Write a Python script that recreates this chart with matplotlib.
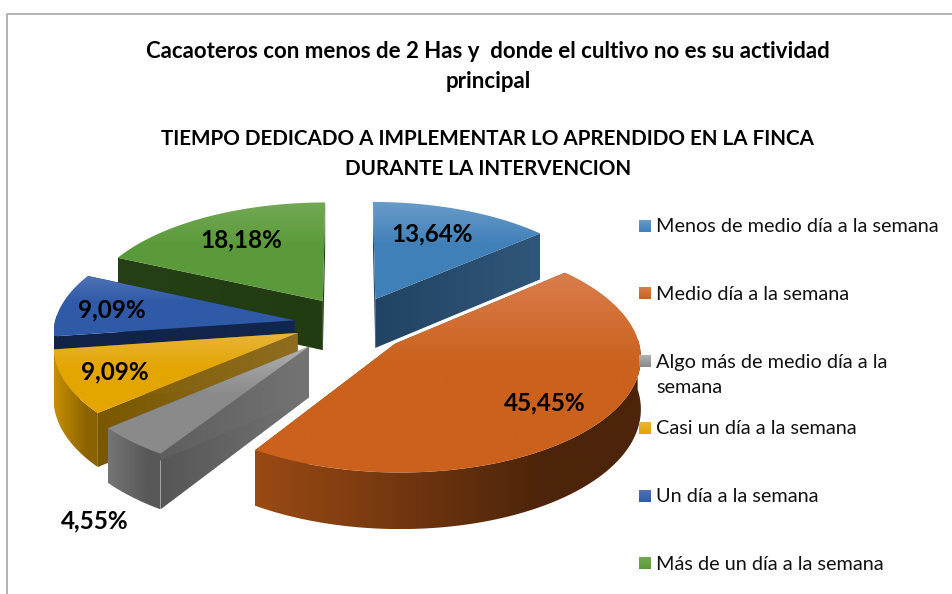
import numpy as np
import matplotlib
matplotlib.use("Agg")
import matplotlib.pyplot as plt
from matplotlib.patches import Polygon

categories = [
    "Menos de medio día a la semana",
    "Medio día a la semana",
    "Algo más de medio día a la\nsemana",
    "Casi un día a la semana",
    "Un día a la semana",
    "Más de un día a la semana",
]
values = [13.64, 45.45, 4.55, 9.09, 9.09, 18.18]

title_lines = [
    "Cacaoteros con menos de 2 Has y  donde el cultivo no es su actividad",
    "principal",
    "TIEMPO DEDICADO A IMPLEMENTAR LO APRENDIDO EN LA FINCA",
    "DURANTE LA INTERVENCION",
]

top_light = ["#6a9bca", "#d97d4d", "#b0b0b0", "#e8b53c", "#4f73b5", "#73a853"]
top_base = ["#4080b8", "#cb611c", "#8a8a8a", "#e3a500", "#2f5aa8", "#5a9a3a"]
wall_left = ["#2c5273", "#9a4a14", "#757575", "#c79000", "#14254a", "#2a4018"]
wall_right = ["#22405f", "#4c240a", "#585858", "#8a6200", "#11224a", "#223c12"]
face_left = ["#224464", "#6b3410", "#565656", "#7a5800", "#112347", "#263f14"]
face_right = ["#30567a", "#6b3410", "#747474", "#8f6d20", "#132650", "#223c12"]

# explosion per slice, in pie radii
explode = [0.27, 0.25, 0.25, 0.233, 0.23, 0.205]
# small upward nudge per slice, in pixels
lift = [2, 3, 3, 6, 4, 8]
cx, cy = 349, 328
rx, ry = 240, 112
persp = 0.10
depth = 50


def project(X, n, z=0.0):
    # n is toward the viewer, z is the drop below the top face
    s = 1.0 / (1.0 - persp * n)
    return cx + rx * X * s, cy + ry * n * s + depth * z * s


def hex_rgb(c):
    return np.array(matplotlib.colors.to_rgb(c))


def gradient_fill(ax, xs, ys, c0, c1, zorder, horizontal=False, knee=0.45):
    xs = np.asarray(xs, dtype=float)
    ys = np.asarray(ys, dtype=float)
    patch = Polygon(np.column_stack([xs, ys]), closed=True, fc="none", ec="none")
    ax.add_patch(patch)
    t = np.clip(np.linspace(0, 1, 128) / knee, 0, 1)[:, None]
    img = (1 - t) * hex_rgb(c0) + t * hex_rgb(c1)
    img = img[None, :, :] if horizontal else img[:, None, :]
    im = ax.imshow(img, extent=(xs.min(), xs.max(), ys.max(), ys.min()),
                   aspect="auto", zorder=zorder, interpolation="bilinear")
    im.set_clip_path(patch)


fig = plt.figure(figsize=(9.53, 5.94), dpi=100)
plt.rcParams["font.family"] = ["Lato", "DejaVu Sans"]
ax = fig.add_axes([0, 0, 1, 1])
ax.axis("off")

# chart frame
ax.plot([7, 7, 953], [594, 14, 14], color="#a6a6a6", lw=1.2, zorder=1)

shares = np.array(values) / np.sum(values) * 2 * np.pi
ends = np.cumsum(shares)
starts = ends - shares

# back slices first, the front ones overlap them
order = [5, 0, 4, 3, 2, 1]
z = 2
for i in order:
    a0, a1 = starts[i], ends[i]
    mid = (a0 + a1) / 2
    ax0 = explode[i] * np.sin(mid)
    an0 = -explode[i] * np.cos(mid)
    th = np.linspace(a0, a1, 120)
    X = ax0 + np.sin(th)
    N = an0 - np.cos(th)

    # radial side faces
    for a in (a0, a1):
        Xe = ax0 + np.sin(a)
        Ne = an0 - np.cos(a)
        corners = [project(ax0, an0), project(Xe, Ne), project(Xe, Ne, 1), project(ax0, an0, 1)]
        fx, fy = zip(*corners)
        gradient_fill(ax, fx, np.array(fy) - lift[i], face_left[i], face_right[i], z,
                      horizontal=True, knee=1.0)
    z += 1

    # outer wall, only the part that faces the viewer
    tx, ty = project(X, N)
    bx, by = project(X, N, 1)
    ty = ty - lift[i]
    by = by - lift[i]
    front = -np.cos(th) > -0.05
    if front.sum() > 1:
        wx = np.r_[tx[front], bx[front][::-1]]
        wy = np.r_[ty[front], by[front][::-1]]
        gradient_fill(ax, wx, wy, wall_left[i], wall_right[i], z, horizontal=True, knee=0.75)
    z += 1

    # top face
    ap = project(ax0, an0)
    gradient_fill(ax, np.r_[ap[0], tx], np.r_[ap[1] - lift[i], ty], top_light[i], top_base[i], z)
    z += 1

# data labels
label_pos = [(432, 234), (545, 403), (95, 521), (115, 372), (112, 310), (241, 240)]
for (lx, ly), v in zip(label_pos, values):
    ax.text(lx, ly, f"{v:.2f}%".replace(".", ","), ha="center", va="center",
            fontsize=17.5, fontweight="bold", color="black", zorder=50)

# titles
title_size = [16, 16, 14.9, 14.9]
for ty, line, size in zip([51, 82, 139, 169], title_lines, title_size):
    ax.text(488, ty, line, ha="center", va="center", fontsize=size, fontweight="bold",
            color="black", zorder=50)

# legend
legend_y = [226, 293, 361, 428, 496, 563]
for i, (name, ly) in enumerate(zip(categories, legend_y)):
    gradient_fill(ax, [639, 651, 651, 639], [ly - 6, ly - 6, ly + 6, ly + 6],
                  top_light[i], top_base[i], 60, knee=1.0)
    if "\n" in name:
        ax.text(656, ly - 7, name, ha="left", va="top", fontsize=14.35, color="#111111",
                zorder=60, linespacing=1.55)
    else:
        ax.text(656, ly + 1, name, ha="left", va="center", fontsize=14.35, color="#111111",
                zorder=60)

ax.set_xlim(0, 953)
ax.set_ylim(594, 0)
fig.savefig("out.png", dpi=100)
plt.close(fig)
